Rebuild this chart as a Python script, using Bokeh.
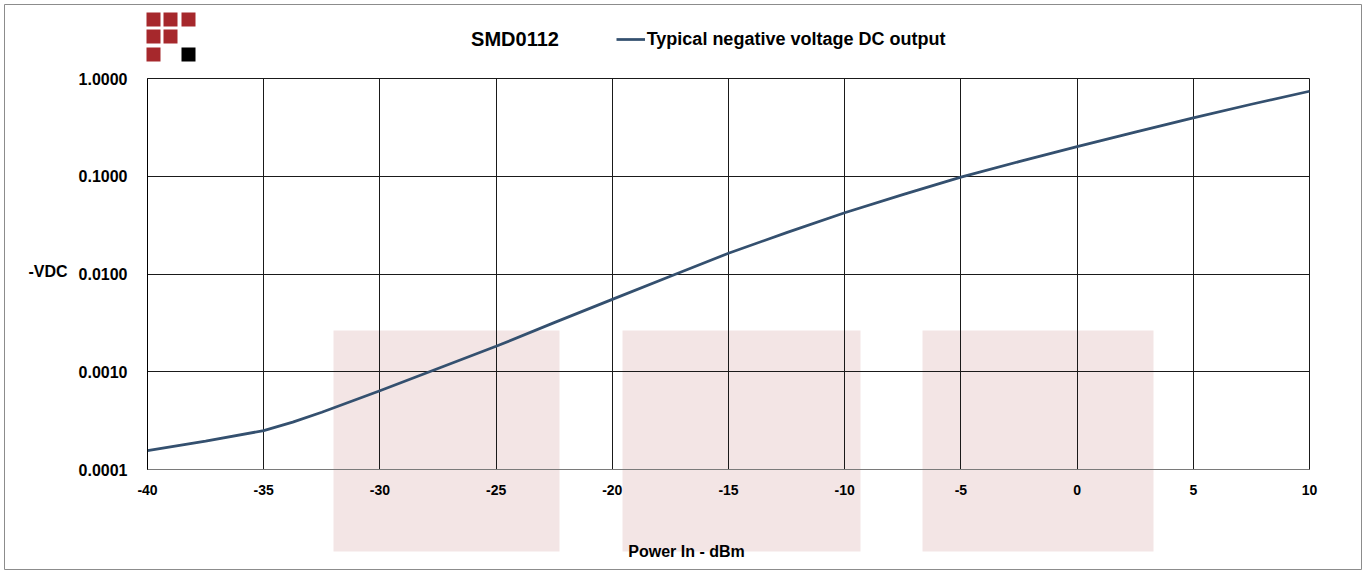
import math
from bokeh.plotting import figure
from bokeh.models import (Range1d, FixedTicker, PrintfTickFormatter, BoxAnnotation,
                          Label, Legend, LegendItem)
from bokeh.embed import file_html
from bokeh.resources import INLINE

# ---- data ----
power_dbm = [-40, -37.5, -35, -33.75, -32.5, -30, -27.5, -25, -22.5, -20, -17.5, -15,
             -12.5, -10, -7.5, -5, -2.5, 0, 2.5, 5, 7.5, 10]
neg_vdc = [1.56e-4, 1.95e-4, 2.5e-4, 3.05e-4, 3.85e-4, 6.4e-4, 1.08e-3, 1.82e-3, 3.18e-3,
           5.5e-3, 9.5e-3, 0.0163, 0.0265, 0.0423, 0.0648, 0.098, 0.141, 0.201,
           0.283, 0.396, 0.545, 0.741]
x_ticks = [-40, -35, -30, -25, -20, -15, -10, -5, 0, 5, 10]
y_ticks = [0.0001, 0.001, 0.01, 0.1, 1.0]
title_text = "SMD0112"
series_name = "Typical negative voltage DC output"
x_label = "Power In - dBm"
y_label = "-VDC"

FONT = "Liberation Sans"

# ---- layout (pixels) ----
W, H = 1362, 570
FL, FT = 4, 4              # frame left/top (frame spans to canvas right/bottom)
FR, FB = W, H
AX_L, AX_R = 147, 1309     # pixel positions of x = -40 and x = 10
AX_T, AX_B = 78, 469       # pixel positions of y = 1 and y = 1e-4
xs = (AX_R - AX_L) / (x_ticks[-1] - x_ticks[0])
x0 = x_ticks[0] - (AX_L - FL) / xs
x1 = x_ticks[-1] + (FR - AX_R) / xs
ys = (AX_B - AX_T) / 4.0
y0 = 10 ** (-4 - (FB - AX_B) / ys)
y1 = 10 ** (0 + (AX_T - FT) / ys)

def sx(px):
    return px - FL

def sy(py):
    return FB - py

p = figure(width=W, height=H,
           min_border_left=FL, min_border_top=FT,
           min_border_right=0, min_border_bottom=0,
           x_range=Range1d(x0, x1), y_range=Range1d(y0, y1),
           y_axis_type="log", output_backend="svg", toolbar_location=None)

p.background_fill_color = "white"
p.border_fill_color = "white"
p.outline_line_color = "#8c8c8c"
p.outline_line_width = 1

def sbox(l, r, t, b, **kw):
    return BoxAnnotation(left=sx(l), right=sx(r), top=sy(t), bottom=sy(b),
                         left_units="screen", right_units="screen",
                         bottom_units="screen", top_units="screen", **kw)

# decorative pale rectangles
for l, r in [(333, 559), (622, 860), (922, 1153)]:
    p.add_layout(sbox(l, r, 330, 551, fill_color="#F3E5E5", fill_alpha=1,
                      line_color=None, level="image"))

# logo squares
cols = [(146, 160), (163, 177), (181, 195)]
rows = [(12, 26), (29, 43), (47, 61)]
logo = [(0, 0, "#A6282C"), (0, 1, "#A6282C"), (0, 2, "#A6282C"),
        (1, 0, "#A6282C"), (1, 1, "#A6282C"),
        (2, 0, "#A6282C"), (2, 2, "#000000")]
for ri, ci, c in logo:
    p.add_layout(sbox(cols[ci][0], cols[ci][1], rows[ri][0], rows[ri][1],
                      fill_color=c, fill_alpha=1, line_color=None, level="overlay"))

r = p.line(power_dbm, neg_vdc, line_color="#34506F", line_width=2.75)

# axes
p.xaxis.fixed_location = y_ticks[0]
p.yaxis.fixed_location = x_ticks[0]
p.xaxis.bounds = (x_ticks[0], x_ticks[-1])
p.yaxis.bounds = (y_ticks[0], y_ticks[-1])
p.xaxis.ticker = FixedTicker(ticks=x_ticks, minor_ticks=[])
p.yaxis.ticker = FixedTicker(ticks=y_ticks, minor_ticks=[])
p.xaxis.formatter = PrintfTickFormatter(format="%d")
p.yaxis.formatter = PrintfTickFormatter(format="%.4f")
for ax in (p.xaxis, p.yaxis):
    ax.major_tick_line_color = None
    ax.minor_tick_line_color = None
    ax.major_label_text_font = FONT
    ax.major_label_text_font_style = "bold"
    ax.major_label_text_color = "black"
p.xaxis.major_label_text_font_size = "14px"
p.yaxis.major_label_text_font_size = "16px"
p.xaxis.major_label_standoff = 9
p.yaxis.major_label_standoff = 14
p.xaxis.axis_line_color = "#7a7a7a"
p.yaxis.axis_line_color = "black"

p.xgrid.grid_line_color = "#1a1a1a"
p.ygrid.grid_line_color = "#1a1a1a"
p.xgrid.cross_bounds = (y_ticks[0], y_ticks[-1])
p.ygrid.cross_bounds = (x_ticks[0], x_ticks[-1])

# texts
p.add_layout(Label(x=sx(514.5), y=sy(38.5), x_units="screen", y_units="screen",
                   text=title_text, text_font=FONT, text_font_style="bold",
                   text_font_size="20px", text_align="center", text_baseline="middle",
                   text_color="black"))
p.add_layout(Label(x=sx(28), y=sy(271), x_units="screen", y_units="screen",
                   text=y_label, text_font=FONT, text_font_style="bold",
                   text_font_size="16px", text_align="left", text_baseline="middle",
                   text_color="black"))
p.add_layout(Label(x=sx(686), y=sy(551), x_units="screen", y_units="screen",
                   text=x_label, text_font=FONT, text_font_style="bold",
                   text_font_size="16px", text_align="center",
                   text_baseline="alphabetic", text_color="black"))

legend = Legend(items=[LegendItem(label=series_name, renderers=[r])],
                location=(sx(615.7), sy(50.3)), orientation="horizontal",
                label_text_font=FONT, label_text_font_style="bold",
                label_text_font_size="18px", label_text_color="black",
                glyph_width=29, glyph_height=22, label_height=22,
                label_standoff=2, padding=0, margin=0, spacing=0,
                border_line_color=None, background_fill_alpha=0)
p.add_layout(legend)

open("out.html", "w").write(file_html(p, INLINE))
